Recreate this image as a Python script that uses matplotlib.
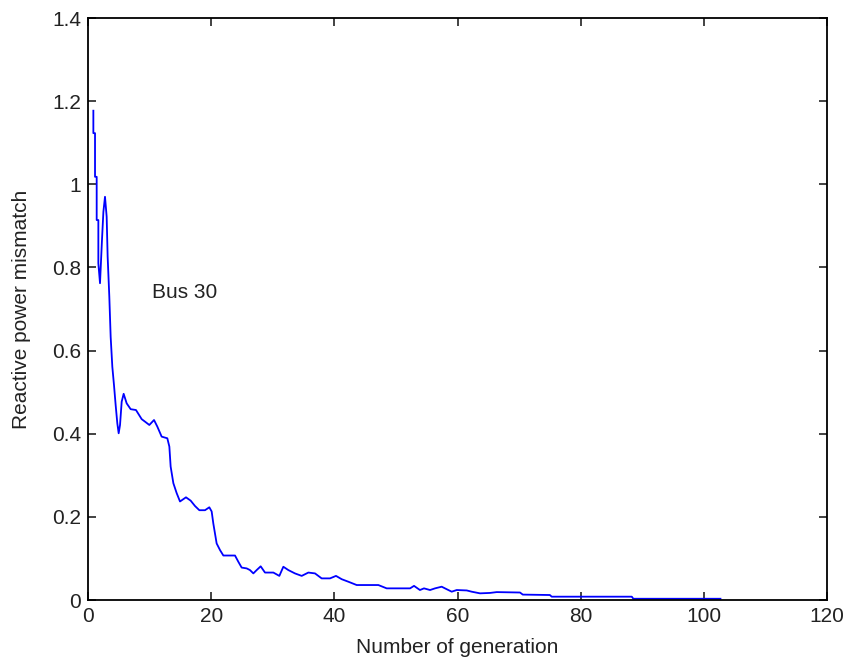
import matplotlib.pyplot as plt
import numpy as np

# curve (generation, mismatch)
gen = [0.87, 0.87, 1.14, 1.14, 1.41, 1.41, 1.68, 1.68, 1.95, 2.06, 2.27, 2.5, 2.76,
       3.03, 3.19, 3.46, 3.68, 3.95, 4.22, 4.49, 4.76, 4.98, 5.20, 5.47, 5.79,
       6.28, 6.93, 7.79, 8.72, 9.26, 9.96, 10.72, 11.26, 11.96, 12.88, 13.21,
       13.42, 13.86, 14.4, 14.94, 15.91, 16.67, 17.38, 18.08, 19.0, 19.7, 20.08,
       20.35, 20.62, 20.89, 21.44, 21.98, 23.87, 24.41, 24.95, 25.77, 26.3,
       26.85, 27.39, 28.04, 28.74, 30.1, 31.07, 31.72, 32.53, 33.6, 34.7, 35.78,
       36.86, 37.94, 39.3, 40.27, 41.2, 42.27, 43.63, 47.15, 48.5, 52.3, 52.94,
       53.9, 54.56, 55.54, 56.35, 57.43, 58.24, 59.06, 59.87, 61.5, 62.3, 63.66,
       65.28, 66.36, 70.15, 70.6, 75.0, 75.3, 88.3, 88.55, 102.7]
mismatch = [1.177, 1.123, 1.123, 1.018, 1.018, 0.914, 0.914, 0.810, 0.762, 0.798,
            0.866, 0.934, 0.970, 0.922, 0.826, 0.730, 0.633, 0.561, 0.517, 0.469,
            0.425, 0.401, 0.421, 0.477, 0.496, 0.473, 0.459, 0.457, 0.435, 0.429,
            0.421, 0.433, 0.417, 0.393, 0.389, 0.369, 0.321, 0.281, 0.257, 0.237,
            0.247, 0.239, 0.226, 0.216, 0.216, 0.223, 0.213, 0.184, 0.160, 0.136,
            0.120, 0.107, 0.107, 0.092, 0.078, 0.076, 0.072, 0.064, 0.072, 0.081,
            0.066, 0.066, 0.058, 0.080, 0.072, 0.064, 0.058, 0.066, 0.064, 0.052,
            0.052, 0.058, 0.050, 0.044, 0.036, 0.036, 0.028, 0.028, 0.034, 0.024,
            0.028, 0.024, 0.028, 0.032, 0.026, 0.020, 0.024, 0.023, 0.020, 0.016,
            0.017, 0.019, 0.018, 0.013, 0.012, 0.008, 0.008, 0.003, 0.003]

plt.rcParams['font.family'] = ['Liberation Sans', 'DejaVu Sans']
fs = 15

fig = plt.figure(figsize=(8.47, 6.65), dpi=100)
ax = fig.add_axes([88/847, 65/665, 739/847, 582/665])
ax.plot(gen, mismatch, color='#0000ff', lw=1.3)
ax.set_xlim(0, 120)
ax.set_ylim(0, 1.4)
ax.set_xticks(np.arange(0, 121, 20))
ax.set_yticks(np.arange(0, 1.41, 0.2))
ax.set_yticklabels(['0', '0.2', '0.4', '0.6', '0.8', '1', '1.2', '1.4'])
ax.tick_params(direction='in', top=True, right=True, length=6, width=1.2,
               labelsize=fs, colors='#222222', pad=5)
for s in ax.spines.values():
    s.set_linewidth(1.3)
ax.set_xlabel('Number of generation', fontsize=fs, color='#222222', labelpad=9)
ax.set_ylabel('Reactive power mismatch', fontsize=fs, color='#222222', labelpad=15)
ax.text(10.4, 0.739, 'Bus 30', fontsize=fs, va='center', ha='left', color='#222222')

fig.savefig('out.png', dpi=100)
